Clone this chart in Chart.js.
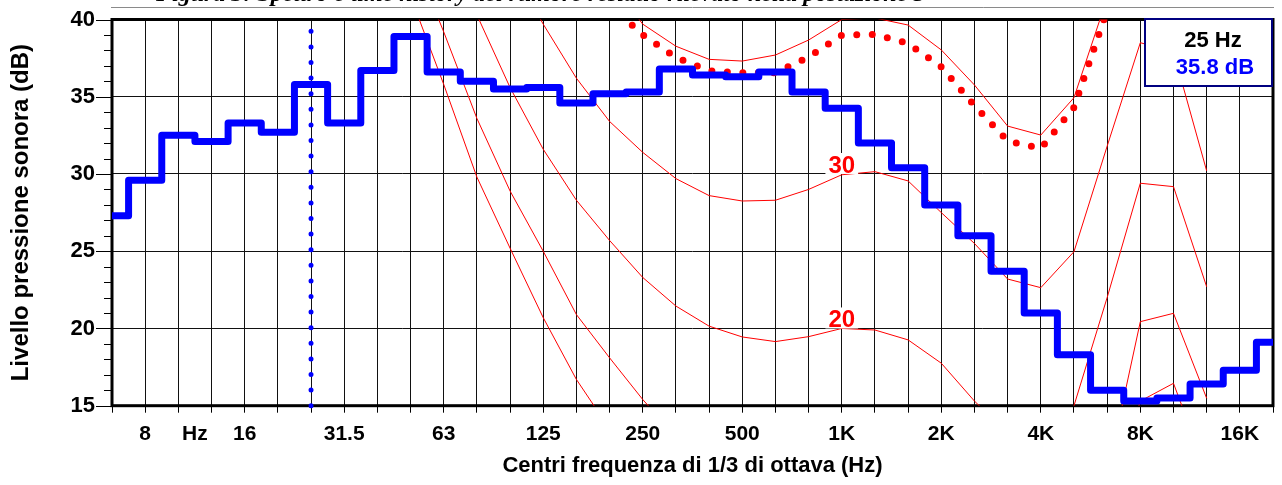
<!DOCTYPE html>
<html>
<head>
<meta charset="utf-8">
<script src="https://cdn.jsdelivr.net/npm/chart.js@4.4.0/dist/chart.umd.min.js"></script>
<style>
html,body{margin:0;padding:0;background:#fff;overflow:hidden}
canvas{display:block}
</style>
</head>
<body>
<canvas id="c" width="1282" height="485"></canvas>
<script>
// ---------- DATA ----------
const bandLabels = ['6.3','8','10','12.5','16','20','25','31.5','40','50','63','80','100','125','160','200','250','315','400','500','630','800','1K','1.25K','1.6K','2K','2.5K','3.15K','4K','5K','6.3K','8K','10K','12.5K','16K','20K'];

const xTickPositions = [1, 2.5, 4, 7, 10, 13, 16, 19, 22, 25, 28, 31, 34];
const xTickTexts     = ['8','Hz','16','31.5','63','125','250','500','1K','2K','4K','8K','16K'];

const yMin = 15, yMax = 40;
const yMajorTicks = [15, 20, 25, 30, 35, 40];

// measured 1/3 octave spectrum (dB)
const spectrumDb = [27.3, 29.6, 32.5, 32.1, 33.3, 32.7, 35.8, 33.3, 36.7, 38.9, 36.6, 36.0, 35.5, 35.6, 34.6, 35.2, 35.3, 36.8, 36.4, 36.3, 36.6, 35.3, 34.25, 32.0, 30.4, 28.0, 26.0, 23.7, 21.0, 18.3, 16.0, 15.3, 15.5, 16.4, 17.3, 19.1];

// red dotted curve
const loudnessCurveDb = [null,null,null,null,null,null,null,null,null,null,null,null,null,null,null,
  41.0, 39.0, 37.55, 36.67, 36.56, 36.55, 37.57, 38.98, 39.04, 38.45, 36.93, 34.43, 32.14, 31.65, 34.3, 40.6,
  null,null,null,null,null];

// thin red contours
const phon0 = [null,null,null,null,null,null,null,null,null,
  41.5, 35.8, 29.8, 25.2, 20.7, 16.7, 13.5,
  null,null,null,null,null,null,null,null,null,null,null,null,null,null,
  8.0, 15.3, 16.45, 10.7, null, null];
const phon10 = [null,null,null,null,null,null,null,null,null,
  44.5, 39.2, 33.6, 28.9, 25.0, 20.9, 18.1, 15.4, 13.0,
  null,null,null,null,null,null,null,null,null,null,null,null,
  10.5, 20.44, 20.98, 15.48, null, null];
const phon20 = [null,null,null,null,null,null,null,null,null,null,
  45.5, 40.3, 35.6, 31.6, 28.3, 25.7, 23.3, 21.45, 20.15, 19.45, 19.15, 19.47, 20.0, 19.9, 19.26, 17.75, 15.3, 13.2, 12.6, 15.0, 22.0, 29.4, 29.18, 22.7,
  null, null];
const phon30 = [null,null,null,null,null,null,null,null,null,null,null,null,
  43.5, 39.7, 36.2, 33.4, 31.4, 29.7, 28.6, 28.25, 28.3, 29.0, 29.95, 30.15, 29.55, 27.5, 25.5, 23.2, 22.64, 24.97, 31.8, 38.5, 37.9, 30.2,
  null, null];
const phon40 = [null,null,null,null,null,null,null,null,null,null,null,null,null,null,null,
  42.5, 39.7, 38.27, 37.42, 37.31, 37.7, 38.67, 40.0, 40.1, 39.64, 38.03, 35.76, 33.1, 32.52, 34.94, 41.4,
  null,null,null,null,null];

const contourLabels = [{text:'30', band:22, db:30}, {text:'20', band:22, db:20}];

const cursorBand = 6;        // 25 Hz
const cursorTopDb = 39.25;
const readoutFreq = '25 Hz';
const readoutLevel = '35.8 dB';

const pageTitle = 'Figura 3: Spettro e time history del rumore residuo rilevato nella postazione 5';

// ---------- CHART ----------
const FONT = "'Liberation Sans', Arial, Helvetica, sans-serif";
const toPts = arr => arr.map((v, i) => ({x: i, y: v}));

const thin = (data) => ({
  data: toPts(data), borderColor: '#ff0000', borderWidth: 1, pointRadius: 0,
  spanGaps: false, tension: 0, fill: false
});

const decorPlugin = {
  id: 'decor',
  beforeDraw(chart) {
    const c = chart.ctx;
    c.save();
    c.fillStyle = '#fff';
    c.fillRect(0, 0, chart.width, chart.height);
    // cut-off title
    c.font = "italic bold 24px 'Liberation Serif', 'Times New Roman', serif";
    c.fillStyle = '#000';
    c.textBaseline = 'alphabetic';
    c.textAlign = 'left';
    c.fillText(pageTitle, 156, 0.5);
    // thin gray rule
    c.strokeStyle = '#8a8a8a';
    c.lineWidth = 1;
    c.beginPath(); c.moveTo(111, 7.5); c.lineTo(1274, 7.5); c.stroke();
    c.restore();
  },
  beforeDatasetsDraw(chart) {
    const c = chart.ctx, a = chart.chartArea, ys = chart.scales.y;
    c.save();
    // y tick marks
    c.strokeStyle = '#000'; c.lineWidth = 1;
    for (let v = yMin; v <= yMax; v++) {
      const y = Math.round(ys.getPixelForValue(v)) + 0.5;
      const len = (v % 5 === 0) ? 16 : 8;
      c.beginPath(); c.moveTo(a.left - len, y); c.lineTo(a.left, y); c.stroke();
    }
    // plot frame
    c.lineWidth = 3; c.strokeStyle = '#000';
    c.strokeRect(a.left, a.top, a.right - a.left, a.bottom - a.top);
    c.restore();
  },
  afterDatasetsDraw(chart) {
    const c = chart.ctx, xs = chart.scales.x, ys = chart.scales.y;
    c.save();
    // contour labels
    c.font = 'bold 24px ' + FONT;
    c.textAlign = 'center'; c.textBaseline = 'alphabetic';
    contourLabels.forEach(l => {
      const x = xs.getPixelForValue(l.band);
      const y = ys.getPixelForValue(l.db);
      const w = c.measureText(l.text).width;
      c.fillStyle = '#fff';
      c.fillRect(x - w / 2 - 3, y - 21, w + 6, 21);
      c.fillStyle = '#ff0000';
      c.fillText(l.text, x, y - 1);
    });
    // readout box
    const bx = 1145, by = 19, bw = 127, bh = 67;
    c.fillStyle = '#fff';
    c.fillRect(bx, by, bw, bh);
    c.strokeStyle = '#000080'; c.lineWidth = 2;
    c.strokeRect(bx, by, bw, bh);
    c.font = 'bold 22px ' + FONT;
    c.textAlign = 'center';
    c.fillStyle = '#000';
    c.fillText(readoutFreq, 1213, 47);
    c.fillStyle = '#0000ff';
    c.fillText(readoutLevel, 1215, 74);
    c.restore();
  }
};

const xTickValues = [];
for (let i = 0; i < bandLabels.length; i++) {
  xTickValues.push(i);
  if (i === 2) xTickValues.push(2.5);
}

const noPad = s => { s.paddingTop = 0; s.paddingBottom = 0; s.paddingLeft = 0; s.paddingRight = 0; };

new Chart(document.getElementById('c').getContext('2d'), {
  type: 'line',
  data: {
    datasets: [
      { label: 'Spettro', data: toPts(spectrumDb), borderColor: '#0000ff', borderWidth: 7,
        stepped: 'middle', pointRadius: 0, borderJoinStyle: 'round', fill: false },
      { label: 'Cursore', data: [{x: cursorBand, y: yMin}, {x: cursorBand, y: cursorTopDb}],
        borderColor: '#0000ff', borderWidth: 5, borderDash: [0, 15.6], borderCapStyle: 'round',
        pointRadius: 0, clip: false, fill: false },
      { label: 'Curva', data: toPts(loudnessCurveDb), borderColor: '#ff0000', borderWidth: 7,
        borderDash: [0, 15.5], borderCapStyle: 'round', pointRadius: 0, spanGaps: false, fill: false },
      thin(phon40), thin(phon30), thin(phon20), thin(phon10), thin(phon0)
    ]
  },
  options: {
    responsive: false, animation: false, devicePixelRatio: 1,
    layout: { padding: { left: 0, right: 9, top: 19.5, bottom: 0 } },
    plugins: { legend: { display: false }, tooltip: { enabled: false } },
    scales: {
      x: {
        type: 'linear', min: 0, max: bandLabels.length - 1,
        afterFit: s => { s.height = 79.3; noPad(s); },
        afterBuildTicks: s => { s.ticks = xTickValues.map(v => ({value: v})); },
        ticks: {
          autoSkip: false, maxRotation: 0, padding: 9, color: '#000',
          font: { family: FONT, size: 21, weight: 'bold' },
          callback: v => { const k = xTickPositions.indexOf(v); return k >= 0 ? xTickTexts[k] : ''; }
        },
        grid: {
          lineWidth: 1, tickLength: 7, drawTicks: true,
          color: c => (c.tick && c.tick.value === 2.5) ? 'rgba(0,0,0,0)' : '#111',
          tickColor: c => (c.tick && c.tick.value === 2.5) ? 'rgba(0,0,0,0)' : '#000'
        },
        border: { display: false },
        title: { display: true, text: 'Centri frequenza di 1/3 di ottava (Hz)', color: '#000',
          font: { family: FONT, size: 22, weight: 'bold' }, padding: { top: 0, bottom: 6 } }
      },
      y: {
        min: yMin, max: yMax,
        afterFit: s => { s.width = 112; noPad(s); },
        ticks: {
          stepSize: 1, autoSkip: false, padding: 17, color: '#000',
          font: { family: FONT, size: 22, weight: 'bold' },
          callback: v => yMajorTicks.includes(v) ? String(v) : ''
        },
        grid: {
          drawTicks: false, lineWidth: 1,
          color: c => (c.tick && yMajorTicks.includes(c.tick.value)) ? '#111' : 'rgba(0,0,0,0)'
        },
        border: { display: false },
        title: { display: true, text: 'Livello pressione sonora (dB)', color: '#000',
          font: { family: FONT, size: 24, weight: 'bold' }, padding: { top: 6.5, bottom: 0 } }
      }
    }
  },
  plugins: [decorPlugin]
});
</script>
</body>
</html>
